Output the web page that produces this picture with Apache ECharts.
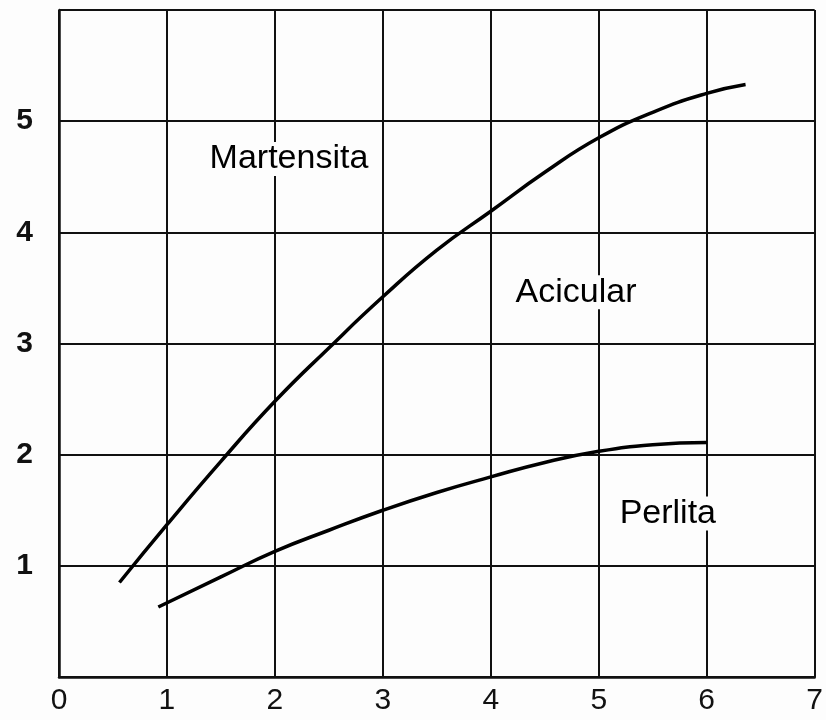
<!DOCTYPE html>
<html>
<head>
<meta charset="utf-8">
<script src="https://cdn.jsdelivr.net/npm/echarts@6/dist/echarts.min.js"></script>
<style>
  html, body { margin: 0; padding: 0; background: #fdfdfd; }
  #chart { width: 826px; height: 720px; }
</style>
</head>
<body>
<div id="chart"></div>
<script>
// curves
const martensitaX = [0.56, 1.00, 1.50, 2.00, 2.50, 3.00, 3.50, 4.00, 4.50, 5.00, 5.50, 6.00, 6.36]
const martensitaY = [0.85, 1.37, 1.94, 2.48, 2.96, 3.42, 3.84, 4.19, 4.54, 4.85, 5.08, 5.25, 5.33]
const perlitaX = [0.92, 1.50, 2.00, 2.50, 3.00, 3.50, 4.00, 4.50, 5.00, 5.50, 6.00]
const perlitaY = [0.63, 0.90, 1.13, 1.32, 1.50, 1.66, 1.80, 1.93, 2.03, 2.09, 2.11]

// region names and where they sit (data coords)
const regionNames = ['Martensita', 'Acicular', 'Perlita']
const regionX = [2.13, 4.79, 5.64]
const regionY = [4.66, 3.46, 1.47]

const xTicks = ['0', '1', '2', '3', '4', '5', '6', '7']
const yTicks = ['', '1', '2', '3', '4', '5', '']

const zip = (xs, ys) => xs.map((x, i) => [x, ys[i]])

const chart = echarts.init(document.getElementById('chart'), null, { renderer: 'canvas' })

const option = {
  backgroundColor: '#fdfdfd',
  animation: false,
  grid: {
    left: 59,
    right: 6,
    top: 10,
    bottom: 43,
  },
  xAxis: {
    type: 'value',
    min: 0,
    max: 7,
    interval: 1,
    axisLine: { show: true, lineStyle: { color: '#111', width: 2.5 } },
    axisTick: { show: false },
    axisLabel: {
      margin: 9,
      fontSize: 30,
      color: '#111',
      fontFamily: 'Liberation Sans',
      formatter: v => xTicks[Math.round(v)],
    },
    splitLine: { show: true, lineStyle: { color: '#111', width: 2 } },
  },
  yAxis: {
    type: 'value',
    min: 0,
    max: 6,
    interval: 1,
    axisLine: { show: true, lineStyle: { color: '#111', width: 2.5 } },
    axisTick: { show: false },
    axisLabel: {
      margin: 26,
      fontSize: 30,
      fontWeight: 'bold',
      color: '#111',
      fontFamily: 'Liberation Sans',
      formatter: v => yTicks[Math.round(v)],
    },
    splitLine: { show: true, lineStyle: { color: '#111', width: 2 } },
  },
  series: [
    {
      name: 'Martensita',
      type: 'line',
      smooth: 0.5,
      showSymbol: false,
      data: zip(martensitaX, martensitaY),
      lineStyle: { color: '#000', width: 3.5 },
    },
    {
      name: 'Perlita',
      type: 'line',
      smooth: 0.5,
      showSymbol: false,
      data: zip(perlitaX, perlitaY),
      lineStyle: { color: '#000', width: 3.5 },
    },
    {
      type: 'scatter',
      symbolSize: 1,
      itemStyle: { color: 'rgba(0,0,0,0)', opacity: 1 },
      data: regionNames.map((n, i) => ({ name: n, value: [regionX[i], regionY[i]] })),
      label: {
        show: true,
        position: 'inside',
        formatter: p => p.name,
        fontSize: 34,
        color: '#000',
        opacity: 1,
        fontFamily: 'Liberation Sans',
        backgroundColor: '#fdfdfd',
      },
    },
  ],
}

chart.setOption(option)
</script>
</body>
</html>
